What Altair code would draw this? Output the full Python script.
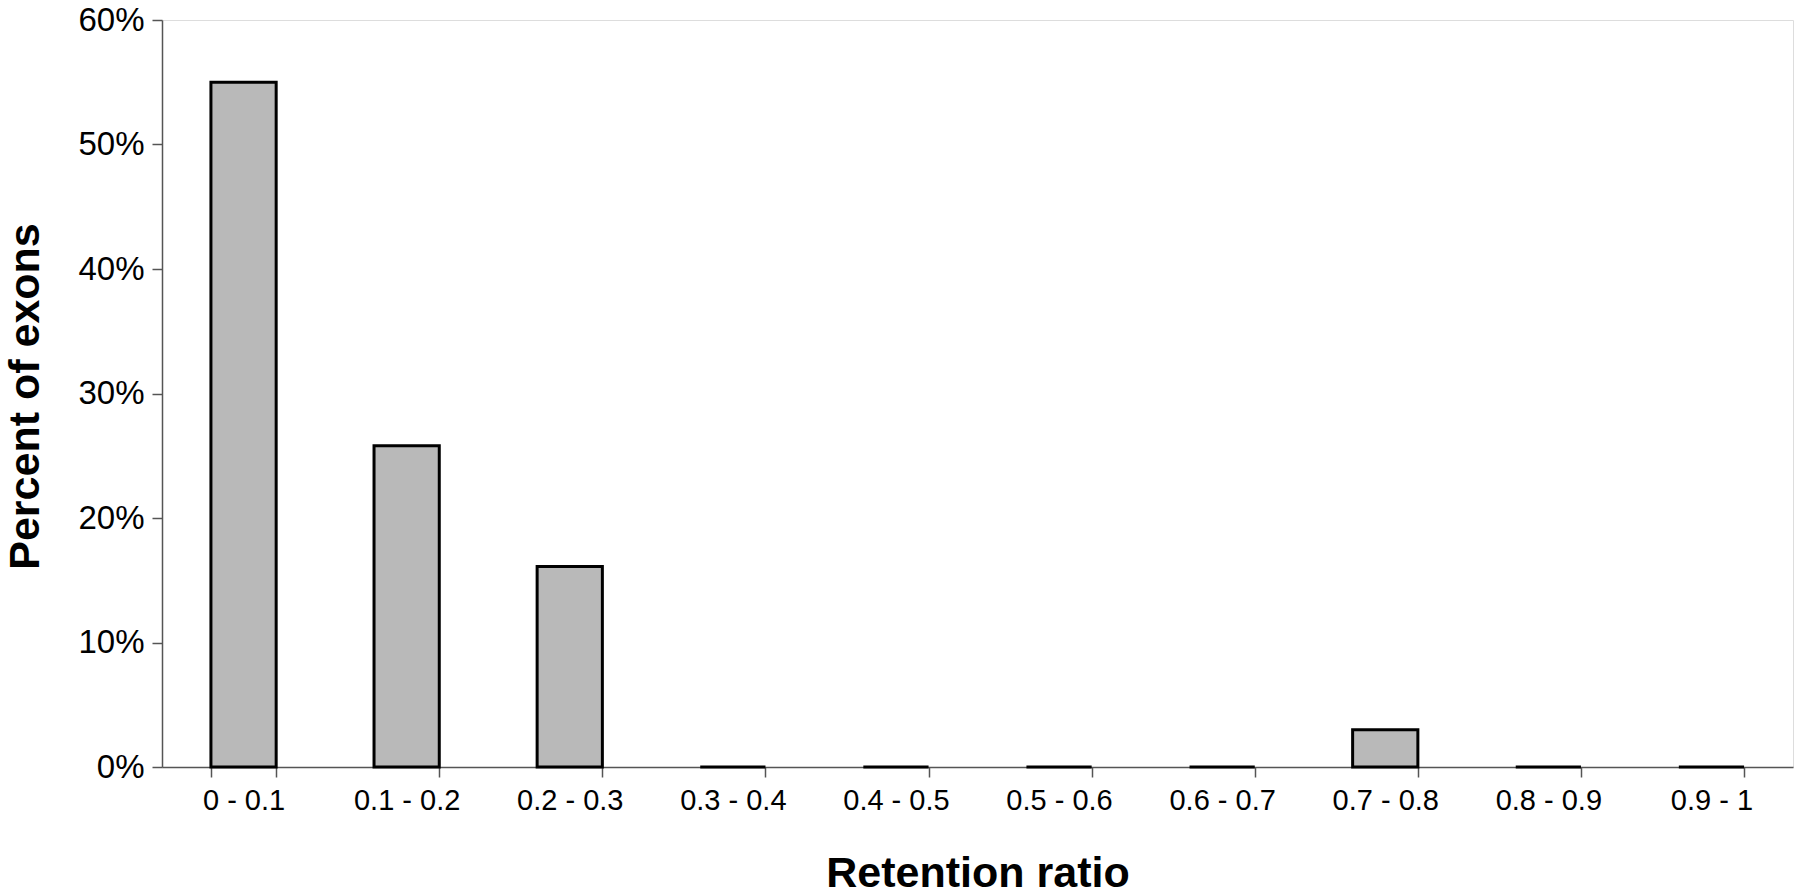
import altair as alt
import pandas as pd

categories = ["0 - 0.1", "0.1 - 0.2", "0.2 - 0.3", "0.3 - 0.4", "0.4 - 0.5",
              "0.5 - 0.6", "0.6 - 0.7", "0.7 - 0.8", "0.8 - 0.9", "0.9 - 1"]
percent = [0.550, 0.258, 0.161, 0.0, 0.0, 0.0, 0.0, 0.030, 0.0, 0.0]
y_ticks = [0.0, 0.1, 0.2, 0.3, 0.4, 0.5, 0.6]

df = pd.DataFrame({"range": categories, "pct": percent})

FONT = "Liberation Sans"

chart = alt.Chart(df).mark_bar(
    color="#b9b9b9", stroke="#000000", strokeWidth=3
).encode(
    x=alt.X("range:N", sort=categories,
            scale=alt.Scale(paddingInner=0.6, paddingOuter=0.3),
            axis=alt.Axis(title="Retention ratio", labelAngle=0,
                          labelFontSize=29, labelFont=FONT, labelColor="#000",
                          labelPadding=9, tickBand="extent", tickSize=10,
                          tickColor="#555", tickWidth=1.5,
                          domainColor="#555", domainWidth=1.5,
                          titleFont=FONT, titleFontSize=43, titleFontWeight="bold",
                          titleColor="#000", titleY=119, titleBaseline="alphabetic",
                          grid=False)),
    y=alt.Y("pct:Q", scale=alt.Scale(domain=[0, 0.6], nice=False),
            axis=alt.Axis(title="Percent of exons", values=y_ticks, format=".0%",
                          labelFontSize=33, labelFont=FONT, labelColor="#000",
                          labelPadding=8, tickSize=10, tickColor="#555", tickWidth=1.5,
                          domainColor="#555", domainWidth=1.5,
                          titleFont=FONT, titleFontSize=43, titleFontWeight="bold",
                          titleColor="#000", titleX=-158, titleY=376,
                          titleBaseline="top", titleAngle=-90,
                          grid=False)),
).properties(
    width=1631, height=747,
    autosize=alt.AutoSizeParams(type="none"),
    padding={"left": 162, "top": 20, "right": 7, "bottom": 128},
).configure_view(stroke=None).configure(background="white")

chart.save("out.html", embed_options={"renderer": "svg", "actions": False})
